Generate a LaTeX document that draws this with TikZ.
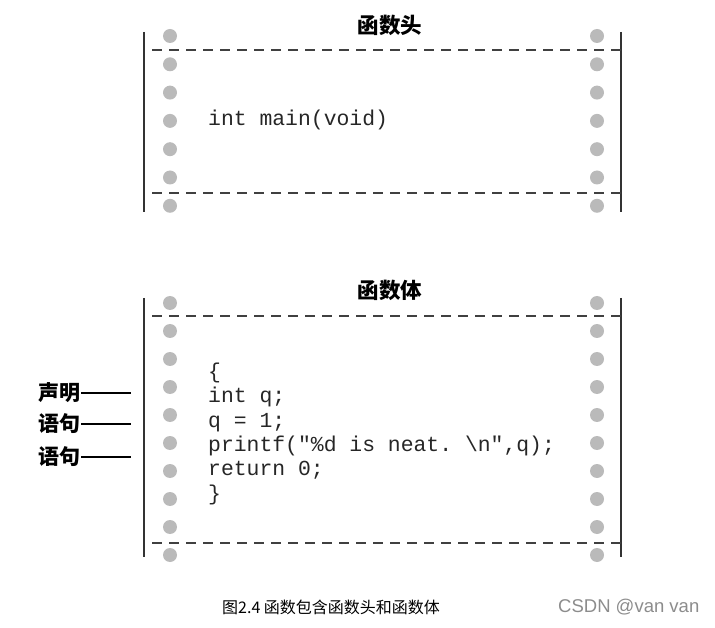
\documentclass[tikz,border=0pt]{standalone}
\usepackage{fontspec}
\setmainfont{Liberation Serif}
\setsansfont{Liberation Sans}
\setmonofont{Liberation Mono}
\newfontfamily\cjk{Noto Sans CJK SC}
\usetikzlibrary{positioning}

\begin{document}
\begin{tikzpicture}[x=1pt,y=-1pt]
  \tikzstyle{rail}=[line width=1.8pt,draw=black!80]
  \tikzstyle{cut}=[line width=1.4pt,draw=black!75,dash pattern=on 10pt off 7pt]
  \tikzstyle{hole}=[fill=black!27]
  \tikzstyle{title}=[font=\cjk\bfseries\fontsize{21.5}{21.5}\selectfont,inner sep=0pt]
  \tikzstyle{code}=[font=\ttfamily\fontsize{21.4}{24.5}\selectfont,text=black!85,inner sep=0pt,anchor=mid west]
  \tikzstyle{tag}=[font=\cjk\bfseries\fontsize{21}{21}\selectfont,inner sep=0pt,anchor=east]

  \useasboundingbox (0,0) rectangle (715,628);

  % function head
  \node[title] (head_t) at (390,25) {函数头};
  \draw[rail] (144,32) -- (144,212);
  \draw[rail] (621,32) -- (621,212);
  \draw[cut] (152,50) -- (621,50);
  \draw[cut] (152,193) -- (621,193);
  \foreach \i in {0,...,6} {
    \fill[hole] (170,36+28.3*\i) circle (7pt);
    \fill[hole] (597,36+28.3*\i) circle (7pt);
  }
  \node[code] (head_c) at (208,123) {int main(void)};

  % function body
  \node[title] (body_t) at (390,290) {函数体};
  \draw[rail] (144,298) -- (144,557);
  \draw[rail] (621,298) -- (621,557);
  \draw[cut] (152,316) -- (621,316);
  \draw[cut] (152,543) -- (621,543);
  \foreach \i in {0,...,9} {
    \fill[hole] (170,303+28*\i) circle (7pt);
    \fill[hole] (597,303+28*\i) circle (7pt);
  }
  \node[code] (body_c1) at (208,376) {\{};
  \node[code, below=24.4pt of body_c1.mid west, anchor=mid west] (body_c2) {int q;};
  \node[code, below=24.4pt of body_c2.mid west, anchor=mid west] (body_c3) {q = 1;};
  \node[code, below=24.4pt of body_c3.mid west, anchor=mid west] (body_c4) {printf("\%d is neat. \textbackslash n",q);};
  \node[code, below=24.4pt of body_c4.mid west, anchor=mid west] (body_c5) {return 0;};
  \node[code, below=24.4pt of body_c5.mid west, anchor=mid west] (body_c6) {\}};

  % labels on the left
  \node[tag] (decl) at (81,393) {声明};
  \node[tag] (stmt_a) at (81,424) {语句};
  \node[tag] (stmt_b) at (81,457) {语句};
  \coordinate (decl_e) at (131,393);
  \coordinate (stmt_a_e) at (131,424);
  \coordinate (stmt_b_e) at (131,457);
  \draw[line width=1.4pt] (decl) -- (decl_e);
  \draw[line width=1.4pt] (stmt_a) -- (stmt_a_e);
  \draw[line width=1.4pt] (stmt_b) -- (stmt_b_e);

  % caption
  \node[font=\cjk\fontsize{16}{16}\selectfont,anchor=west,inner sep=0pt] (cap) at (222,607) {图2.4 函数包含函数头和函数体};
  \node[font=\sffamily\fontsize{18.5}{18.5}\selectfont,text=black!45,anchor=west,inner sep=0pt] (mark) at (558,607) {CSDN @van van};
\end{tikzpicture}
\end{document}
